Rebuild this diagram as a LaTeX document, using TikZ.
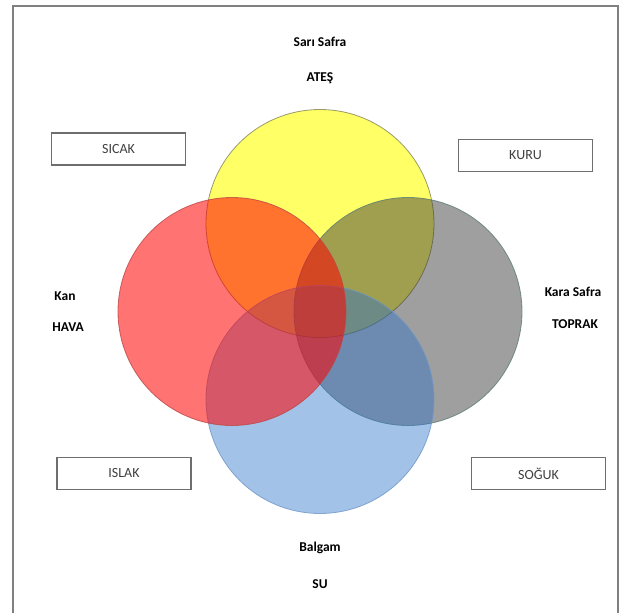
\documentclass[tikz,border=0pt]{standalone}
\usepackage{fontspec}
\setmainfont{Carlito}
\definecolor{frame}{RGB}{128,128,128}
\definecolor{boxline}{RGB}{110,110,110}
\definecolor{boxtext}{RGB}{64,64,64}
\definecolor{ateşfill}{RGB}{255,255,0}
\definecolor{ateşline}{RGB}{130,130,90}
\definecolor{toprakfill}{RGB}{56,56,56}
\definecolor{toprakline}{RGB}{90,125,120}
\definecolor{sufill}{RGB}{44,114,202}
\definecolor{suline}{RGB}{110,150,200}
\definecolor{havafill}{RGB}{255,0,0}
\definecolor{havaline}{RGB}{190,70,70}
\tikzset{
  element/.style={shape=circle, minimum size=228pt, inner sep=0pt, line width=0.8pt, draw opacity=0.8},
  humor/.style={font=\fontsize{13.5}{16}\selectfont\bfseries, text=black},
  quality/.style={shape=rectangle, draw=boxline, line width=1.2pt, minimum width=134pt, minimum height=32pt, inner sep=0pt, font=\fontsize{14}{16}\selectfont, text=boxtext}
}
\begin{document}
\begin{tikzpicture}[x=1pt, y=-1pt]
\useasboundingbox (0,0) rectangle (627,613);
\fill [white] (0,0) rectangle (627,613);
\draw [frame, line width=1.5pt] (13,614) -- (13,6) -- (618,6) -- (618,614);

\node [element, fill=ateşfill, fill opacity=0.6, draw=ateşline] (ates) at (320,223.5) {};
\node [element, fill=toprakfill, fill opacity=0.48, draw=toprakline] (toprak) at (408,311.5) {};
\node [element, fill=sufill, fill opacity=0.43, draw=suline] (su) at (320,399.5) {};
\node [element, fill=havafill, fill opacity=0.55, draw=havaline] (hava) at (232,311.5) {};

\node [humor] (sari) at (320,42) {Sarı Safra};
\node [humor] (atesname) at (320,78) {ATEŞ};
\node [humor] (kan) at (65,296) {Kan};
\node [humor] (havaname) at (68,327) {HAVA};
\node [humor] (kara) at (573,292) {Kara Safra};
\node [humor] (toprakname) at (575,324) {TOPRAK};
\node [humor] (balgam) at (320,548) {Balgam};
\node [humor] (suname) at (320,584) {SU};

\node [quality] (sicak) at (118.5,149) {SICAK};
\node [quality] (kuru) at (525.5,155.5) {KURU};
\node [quality] (islak) at (124,473.5) {ISLAK};
\node [quality] (soguk) at (538.5,473.5) {SOĞUK};
\end{tikzpicture}
\end{document}
